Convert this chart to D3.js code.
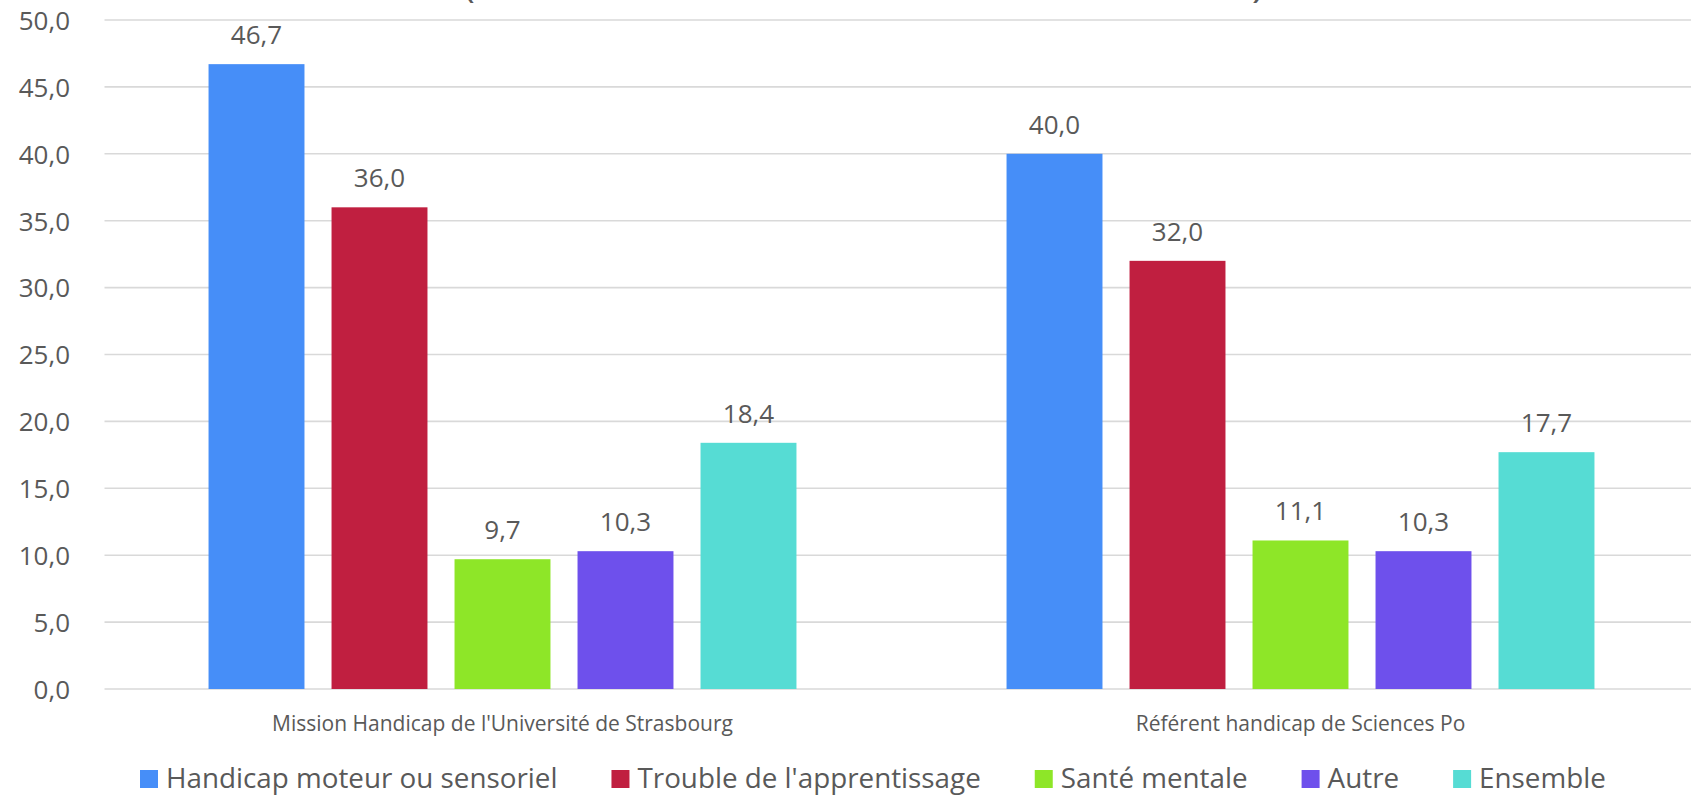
<!DOCTYPE html>
<html>
<head>
<meta charset="utf-8">
<script src="https://cdn.jsdelivr.net/npm/d3@7"></script>
<style>
  html, body { margin: 0; padding: 0; background: #ffffff; }
  svg { display: block; }
  text { font-family: "Open Sans", "Noto Sans", sans-serif; fill: #595959; }
</style>
</head>
<body>
<svg id="chart" width="1691" height="796"></svg>
<script>
// Groups along the x axis
const groups = [
  "Mission Handicap de l'Université de Strasbourg",
  "Référent handicap de Sciences Po"
];
// Series (one bar per series inside each group)
const series = [
  "Handicap moteur ou sensoriel",
  "Trouble de l'apprentissage",
  "Santé mentale",
  "Autre",
  "Ensemble"
];
const seriesColors = ["#468ef8", "#c01f40", "#8ee628", "#6e50ec", "#56dcd4"];
// Values per series, in group order
const valuesMoteur = [46.7, 40.0];
const valuesApprentissage = [36.0, 32.0];
const valuesSanteMentale = [9.7, 11.1];
const valuesAutre = [10.3, 10.3];
const valuesEnsemble = [18.4, 17.7];
const yTicks = [0, 5, 10, 15, 20, 25, 30, 35, 40, 45, 50];

const seriesValues = [valuesMoteur, valuesApprentissage, valuesSanteMentale, valuesAutre, valuesEnsemble];
const rows = [];
groups.forEach((g, gi) => {
  series.forEach((s, si) => rows.push({ group: g, series: s, si, value: seriesValues[si][gi] }));
});

const fmt = v => d3.format(".1f")(v).replace(".", ",");

const svg = d3.select("#chart");
const plot = { left: 103.5, right: 1699.5, top: 20, bottom: 689 };

const x0 = d3.scaleBand().domain(groups).range([plot.left, plot.right]).padding(0);
const x1 = d3.scaleBand().domain(series).range([0, x0.bandwidth()])
  .paddingInner(0.22).paddingOuter(0.854);
const y = d3.scaleLinear().domain([0, 50]).range([plot.bottom, plot.top]);

// Title parentheses, clipped by the top edge of the canvas
svg.append("text").attr("x", 463).attr("y", -3).attr("font-size", 40).text("(");
svg.append("text").attr("x", 1252).attr("y", -3).attr("font-size", 40).text(")");

// Horizontal gridlines
svg.append("g")
  .selectAll("line")
  .data(yTicks)
  .join("line")
  .attr("x1", plot.left + 1).attr("x2", 1691)
  .attr("y1", d => y(d)).attr("y2", d => y(d))
  .attr("stroke", "#d9d9d9").attr("stroke-width", 1.6);

// Y axis labels
const yAxis = d3.axisLeft(y).tickValues(yTicks).tickFormat(fmt).tickSize(0).tickPadding(0);
const yg = svg.append("g").attr("transform", "translate(70,0)").call(yAxis);
yg.select(".domain").remove();
yg.selectAll("text")
  .attr("font-size", 26)
  .attr("font-family", "'Open Sans', sans-serif")
  .attr("fill", "#595959")
  .attr("dy", "0.36em");

// Bars
svg.append("g")
  .selectAll("rect")
  .data(rows)
  .join("rect")
  .attr("x", d => x0(d.group) + x1(d.series))
  .attr("width", x1.bandwidth())
  .attr("y", d => y(d.value))
  .attr("height", d => y(0) - y(d.value))
  .attr("fill", d => seriesColors[d.si]);

// Value labels
svg.append("g")
  .selectAll("text")
  .data(rows)
  .join("text")
  .attr("x", d => x0(d.group) + x1(d.series) + x1.bandwidth() / 2)
  .attr("y", d => y(d.value) - 20)
  .attr("text-anchor", "middle")
  .attr("font-size", 26)
  .text(d => fmt(d.value));

// Group labels
const xAxis = d3.axisBottom(x0).tickSize(0).tickPadding(0);
const xg = svg.append("g").attr("transform", "translate(0,731)").call(xAxis);
xg.select(".domain").remove();
xg.selectAll("text")
  .attr("font-size", 21)
  .attr("font-family", "'Open Sans', sans-serif")
  .attr("fill", "#595959")
  .attr("dy", 0);

// Legend: swatch + label, laid out left to right
const legend = svg.append("g").attr("transform", "translate(140,0)");
const items = legend.selectAll("g").data(series).join("g");
items.append("rect")
  .attr("width", 18).attr("height", 18).attr("y", 770)
  .attr("fill", (d, i) => seriesColors[i]);
items.append("text")
  .attr("x", 26).attr("y", 788)
  .attr("font-size", 27.8)
  .text(d => d);
let cursor = 0;
const gap = 54;
items.each(function () {
  const w = this.getBBox().width;
  d3.select(this).attr("transform", `translate(${cursor},0)`);
  cursor += w + gap;
});
</script>
</body>
</html>
